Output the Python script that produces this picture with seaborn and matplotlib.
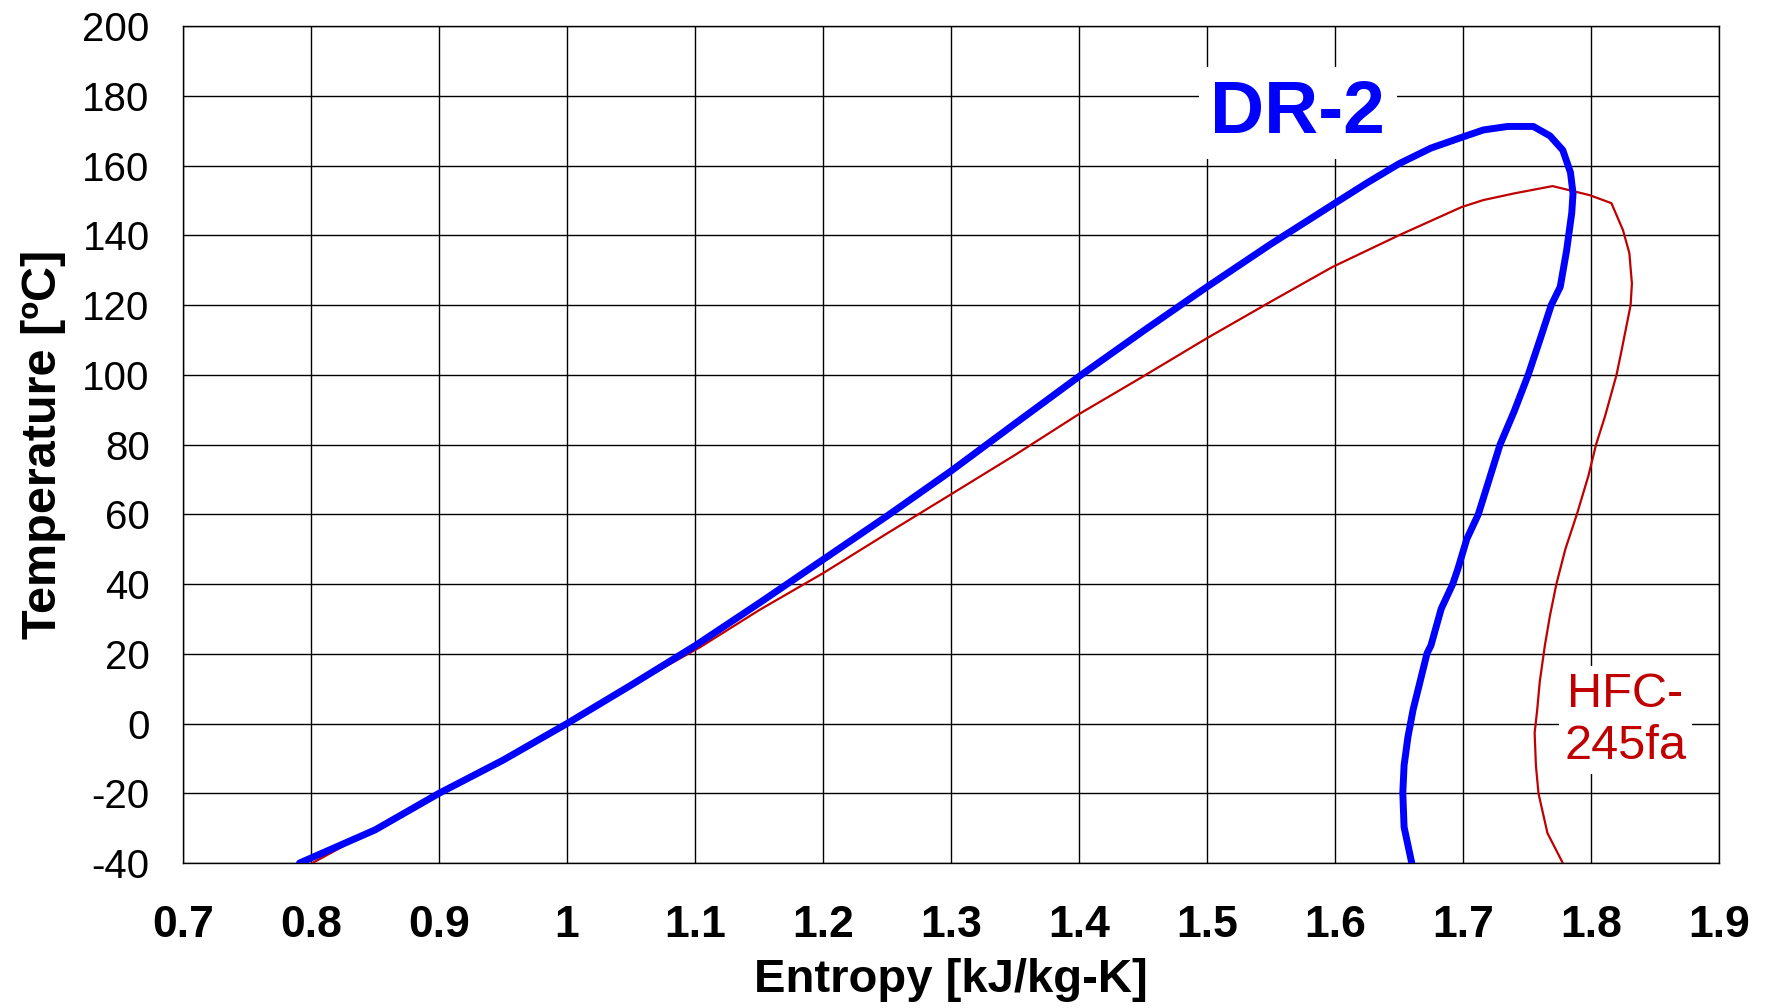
import pandas as pd
import matplotlib
matplotlib.use("Agg")
import matplotlib.pyplot as plt
import seaborn as sns

# DR-2 saturation dome (entropy kJ/kg-K, temperature C)
dr2_s = [0.791, 0.85, 0.9, 0.95, 1.0, 1.05, 1.1, 1.15, 1.2, 1.25, 1.3, 1.35, 1.4, 1.45,
         1.5, 1.55, 1.6, 1.625, 1.65, 1.675, 1.7, 1.716, 1.735, 1.755, 1.768, 1.778, 1.784,
         1.786, 1.785, 1.781, 1.776, 1.769, 1.761, 1.751, 1.740, 1.729, 1.712, 1.703,
         1.696, 1.692, 1.683, 1.675, 1.672, 1.661, 1.657, 1.654, 1.653, 1.654, 1.660]
dr2_t = [-40, -30.5, -20, -10.5, 0, 11, 22.3, 34.5, 47, 59.5, 72.4, 86, 99.5, 112.5,
         125.2, 137.5, 149.2, 155, 160.5, 165, 168.2, 170.2, 171.2, 171.2, 168.5, 164.4, 158,
         152, 146.4, 135.7, 125.2, 120, 111, 100, 89.5, 80, 60, 52.9,
         44.3, 40, 32.9, 22.4, 20.2, 3.9, -3.9, -12, -19.9, -29.7, -40]

# HFC-245fa saturation dome
hfc_s = [0.801, 0.85, 0.9, 0.95, 1.0, 1.05, 1.104, 1.15, 1.2, 1.25, 1.299, 1.35, 1.399,
         1.45, 1.5, 1.55, 1.598, 1.65, 1.699, 1.716, 1.74, 1.770, 1.799, 1.816, 1.825,
         1.830, 1.832, 1.831, 1.824, 1.820, 1.811, 1.804, 1.798, 1.789, 1.780, 1.773,
         1.768, 1.764, 1.760, 1.758, 1.756, 1.757, 1.759, 1.766, 1.778]
hfc_t = [-40, -30.2, -20.2, -10.3, 0, 10.8, 21.9, 32.5, 43.1, 54.5, 65.5, 77, 88.5,
         99.5, 110.5, 121, 130.9, 140, 148.1, 150.1, 152, 154.1, 151.5, 149.2, 141.5,
         134.9, 126.2, 120, 107.1, 100, 88.1, 80, 71, 60, 50, 40,
         31, 22.4, 12, 3.9, -2.7, -12, -20, -31.4, -40]

x_ticks = [0.7, 0.8, 0.9, 1, 1.1, 1.2, 1.3, 1.4, 1.5, 1.6, 1.7, 1.8, 1.9]
x_labels = ["0.7", "0.8", "0.9", "1", "1.1", "1.2", "1.3", "1.4", "1.5", "1.6", "1.7", "1.8", "1.9"]
y_ticks = list(range(-40, 201, 20))

sns.set_style("white")
plt.rcParams['font.family'] = ['Liberation Sans', 'DejaVu Sans']
plt.rcParams['text.color'] = 'black'
plt.rcParams['axes.labelcolor'] = 'black'
plt.rcParams['xtick.color'] = 'black'
plt.rcParams['ytick.color'] = 'black'

fig = plt.figure(figsize=(17.67, 10.08), dpi=100)
ax = fig.add_axes([0.1036, 0.1438, 0.8692, 0.8304])

dr2 = pd.DataFrame({"s": dr2_s, "T": dr2_t})
hfc = pd.DataFrame({"s": hfc_s, "T": hfc_t})

sns.lineplot(data=hfc, x="s", y="T", sort=False, estimator=None, color="#C00000",
             linewidth=1.6, ax=ax, zorder=3)
sns.lineplot(data=dr2, x="s", y="T", sort=False, estimator=None, color="#0000FF",
             linewidth=5, ax=ax, zorder=4, solid_capstyle="round", solid_joinstyle="round")

ax.set_xlim(0.7, 1.9)
ax.set_ylim(-40, 200)
ax.set_xticks(x_ticks)
ax.set_xticklabels(x_labels, fontsize=32, fontweight="bold")
ax.set_yticks(y_ticks)
ax.set_yticklabels([str(v) for v in y_ticks], fontsize=29)
ax.grid(True, color="black", linewidth=1)
ax.set_axisbelow(True)
for sp in ax.spines.values():
    sp.set_color("black")
    sp.set_linewidth(1)
ax.tick_params(axis="both", direction="out", length=10, width=1, color="black")
ax.tick_params(axis="x", pad=20)
ax.tick_params(axis="y", pad=14)

ax.set_xlabel("Entropy [kJ/kg-K]", fontsize=34, fontweight="bold", labelpad=9)
ax.set_ylabel("Temperature [ºC]", fontsize=35, fontweight="bold", labelpad=12)

ax.text(1.571, 175, "DR-2", color="#0000FF", fontsize=54, fontweight="bold",
        ha="center", va="center", zorder=5,
        bbox=dict(facecolor="white", edgecolor="none", pad=8))
ax.text(1.827, 1, "HFC-\n245fa", color="#C00000", fontsize=35,
        ha="center", va="center", linespacing=1.2, zorder=5,
        bbox=dict(facecolor="white", edgecolor="none", pad=4))

fig.savefig("out.png", dpi=100)
